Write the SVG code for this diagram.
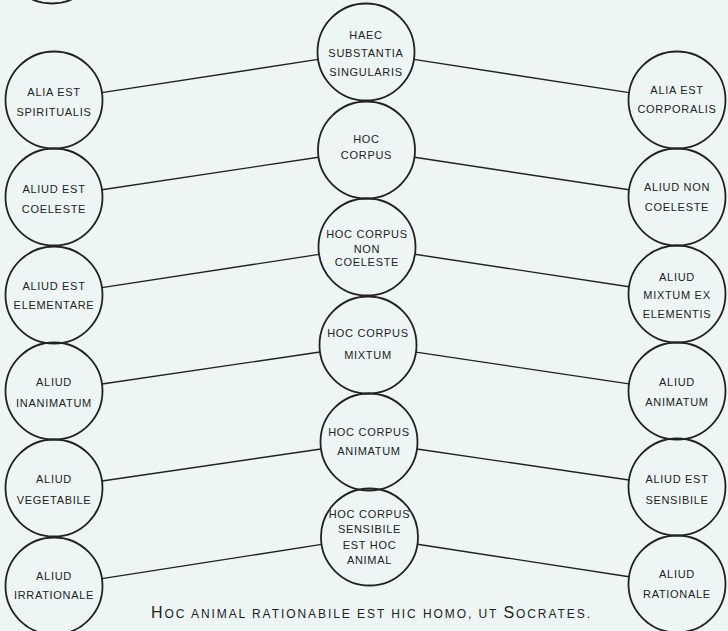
<svg xmlns="http://www.w3.org/2000/svg" width="728" height="631" viewBox="0 0 728 631">
<style>
.bg{fill:#eef6f5}
.n{fill:none;stroke:#222;stroke-width:1.8}
.t{font-family:"Liberation Sans",Arial,sans-serif;font-size:11px;letter-spacing:0.7px;fill:#222;text-anchor:middle}
.c line{stroke:#222;stroke-width:1.4}
.cap{font-family:"Liberation Sans",Arial,sans-serif;fill:#222}
</style>
<rect class="bg" x="0" y="0" width="728" height="631"/>
<g id="partial"><circle class="n" cx="52" cy="-45" r="48.5"/></g>
<g id="connectors" class="c">
<line x1="101.9" y1="92.6" x2="318.1" y2="59.4"/>
<line x1="102" y1="189.8" x2="318.5" y2="157.2"/>
<line x1="101.9" y1="287.6" x2="319.1" y2="254.4"/>
<line x1="102" y1="384" x2="320" y2="352"/>
<line x1="102" y1="481" x2="321" y2="449"/>
<line x1="101.9" y1="578.6" x2="321.6" y2="544.4"/>
<line x1="413.9" y1="59.4" x2="629.1" y2="92.6"/>
<line x1="414.5" y1="157.3" x2="629" y2="189.7"/>
<line x1="415" y1="254.3" x2="629" y2="286.7"/>
<line x1="416" y1="352.1" x2="629" y2="383.9"/>
<line x1="417" y1="449" x2="629" y2="480"/>
<line x1="417.4" y1="544.3" x2="629.1" y2="576.7"/>
</g>
<g id="c1"><circle class="n" cx="366" cy="52" r="48.5"/><text class="t" x="366" y="39">HAEC</text><text class="t" x="366" y="57">SUBSTANTIA</text><text class="t" x="366" y="76">SINGULARIS</text></g>
<g id="c2"><circle class="n" cx="366.5" cy="150" r="48.5"/><text class="t" x="366.5" y="143">HOC</text><text class="t" x="366.5" y="159">CORPUS</text></g>
<g id="c3"><circle class="n" cx="367" cy="247" r="48.5"/><text class="t" x="367" y="238">HOC CORPUS</text><text class="t" x="367" y="253">NON</text><text class="t" x="367" y="266">COELESTE</text></g>
<g id="c4"><circle class="n" cx="368" cy="345" r="48.5"/><text class="t" x="368" y="337">HOC CORPUS</text><text class="t" x="368" y="359">MIXTUM</text></g>
<g id="c5"><circle class="n" cx="369" cy="442" r="48.5"/><text class="t" x="369" y="436">HOC CORPUS</text><text class="t" x="369" y="455">ANIMATUM</text></g>
<g id="c6"><circle class="n" cx="369.5" cy="537" r="48.5"/><text class="t" x="369.5" y="518">HOC CORPUS</text><text class="t" x="369.5" y="533">SENSIBILE</text><text class="t" x="369.5" y="549">EST HOC</text><text class="t" x="369.5" y="564">ANIMAL</text></g>
<g id="l1"><circle class="n" cx="54" cy="100" r="48.5"/><text class="t" x="54" y="96">ALIA EST</text><text class="t" x="54" y="116">SPIRITUALIS</text></g>
<g id="l2"><circle class="n" cx="54" cy="197" r="48.5"/><text class="t" x="54" y="193">ALIUD EST</text><text class="t" x="54" y="213">COELESTE</text></g>
<g id="l3"><circle class="n" cx="54" cy="295" r="48.5"/><text class="t" x="54" y="290">ALIUD EST</text><text class="t" x="54" y="309">ELEMENTARE</text></g>
<g id="l4"><circle class="n" cx="54" cy="391" r="48.5"/><text class="t" x="54" y="386">ALIUD</text><text class="t" x="54" y="407">INANIMATUM</text></g>
<g id="l5"><circle class="n" cx="54" cy="488" r="48.5"/><text class="t" x="54" y="483">ALIUD</text><text class="t" x="54" y="504">VEGETABILE</text></g>
<g id="l6"><circle class="n" cx="54" cy="586" r="48.5"/><text class="t" x="54" y="580">ALIUD</text><text class="t" x="54" y="599">IRRATIONALE</text></g>
<g id="r1"><circle class="n" cx="677" cy="100" r="48.5"/><text class="t" x="677" y="94">ALIA EST</text><text class="t" x="677" y="113">CORPORALIS</text></g>
<g id="r2"><circle class="n" cx="677" cy="197" r="48.5"/><text class="t" x="677" y="191">ALIUD NON</text><text class="t" x="677" y="211">COELESTE</text></g>
<g id="r3"><circle class="n" cx="677" cy="294" r="48.5"/><text class="t" x="677" y="281">ALIUD</text><text class="t" x="677" y="299">MIXTUM EX</text><text class="t" x="677" y="318">ELEMENTIS</text></g>
<g id="r4"><circle class="n" cx="677" cy="391" r="48.5"/><text class="t" x="677" y="386">ALIUD</text><text class="t" x="677" y="406">ANIMATUM</text></g>
<g id="r5"><circle class="n" cx="677" cy="487" r="48.5"/><text class="t" x="677" y="483">ALIUD EST</text><text class="t" x="677" y="504">SENSIBILE</text></g>
<g id="r6"><circle class="n" cx="677" cy="584" r="48.5"/><text class="t" x="677" y="578">ALIUD</text><text class="t" x="677" y="598">RATIONALE</text></g>
<g id="caption"><text class="cap" x="151" y="618" font-size="12" textLength="439" lengthAdjust="spacing"><tspan font-size="16">H</tspan>OC ANIMAL RATIONABILE EST HIC HOMO, UT <tspan font-size="16">S</tspan>OCRATES.</text></g>
</svg>
